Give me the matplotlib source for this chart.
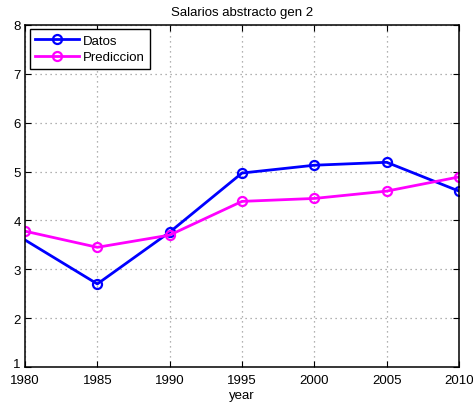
import matplotlib.pyplot as plt
import matplotlib.transforms as mtransforms

# Datos
years = [1975, 1980, 1985, 1990, 1995, 2000, 2005, 2010]
datos = [4.5, None, 2.70, 3.76, 4.97, 5.13, 5.19, 4.60]
prediccion = [4.11, 3.78, 3.45, 3.70, 4.39, 4.45, 4.60, 4.89]

plt.rcParams['font.family'] = ['Liberation Sans', 'DejaVu Sans']

fig = plt.figure(figsize=(4.73, 4.06), dpi=100)
ax = fig.add_axes([25 / 473, 38 / 406, 434 / 473, 342 / 406])

x_d = [y for y, v in zip(years, datos) if v is not None]
y_d = [v for v in datos if v is not None]
ax.plot(x_d, y_d, color='#0000ff', linewidth=2, marker='o', markersize=6.5,
        markerfacecolor='none', markeredgewidth=1.6, label='Datos')
ax.plot(years, prediccion, color='#ff00ff', linewidth=2, marker='o', markersize=6.5,
        markerfacecolor='none', markeredgewidth=1.6, label='Prediccion')

ax.set_xlim(1980, 2010)
ax.set_ylim(1, 8)
ax.set_xticks(range(1980, 2011, 5))
ax.set_yticks(range(1, 9))
ax.grid(True, linestyle=(0, (1, 3)), color='#999999', linewidth=0.9)
ax.tick_params(direction='in', top=True, right=True, labelsize=9.5, length=4)
ax.tick_params(axis='x', pad=5)
ax.tick_params(axis='y', pad=3)
for s in ax.spines.values():
    s.set_linewidth(1.1)

# subir un poco la etiqueta "1" para que no pise "1980"
fig.canvas.draw()
lbl = ax.get_yticklabels()[0]
lbl.set_transform(lbl.get_transform() + mtransforms.ScaledTranslation(0, 4 / 100, fig.dpi_scale_trans))

ax.set_title('Salarios abstracto gen 2', fontsize=9.5, pad=7)
ax.set_xlabel('year', fontsize=9.5, labelpad=2)

leg = ax.legend(loc='upper left', fontsize=9.5, fancybox=False, framealpha=1,
                edgecolor='black', bbox_to_anchor=(0.012, 0.988), borderaxespad=0,
                handlelength=3.3, numpoints=1, borderpad=0.4, labelspacing=0.35,
                handletextpad=0.3)
leg.get_frame().set_linewidth(1.0)

fig.savefig('out.png', dpi=100)
